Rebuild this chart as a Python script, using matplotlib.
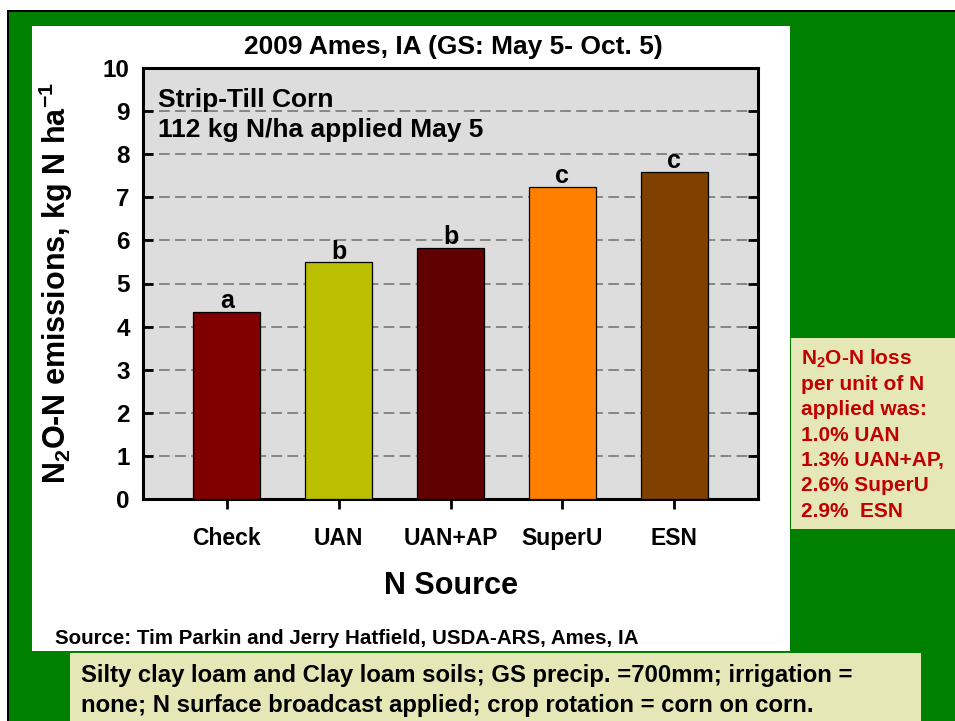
import matplotlib
matplotlib.use('Agg')
import matplotlib.pyplot as plt
from matplotlib.patches import Rectangle

plt.rcParams['font.family'] = ['Liberation Sans', 'DejaVu Sans']
plt.rcParams['font.weight'] = 'bold'
plt.rcParams['axes.labelweight'] = 'bold'
plt.rcParams['mathtext.fontset'] = 'custom'
plt.rcParams['mathtext.rm'] = 'Liberation Sans:bold'
plt.rcParams['mathtext.it'] = 'Liberation Sans:bold'
plt.rcParams['mathtext.bf'] = 'Liberation Sans:bold'

# data
sources = ['Check', 'UAN', 'UAN+AP', 'SuperU', 'ESN']
emissions = [4.35, 5.49, 5.83, 7.25, 7.59]
letters = ['a', 'b', 'b', 'c', 'c']
bar_colors = ['#800000', '#BAC000', '#600000', '#FF8000', '#804000']
yticks = list(range(0, 11))

loss_lines = ['N$_2$O-N loss', 'per unit of N', 'applied was:', '1.0% UAN',
              '1.3% UAN+AP,', '2.6% SuperU', '2.9%  ESN']
note_lines = ['Silty clay loam and Clay loam soils; GS precip. =700mm; irrigation =',
              'none; N surface broadcast applied; crop rotation = corn on corn.']

W, H = 955, 721
fig = plt.figure(figsize=(W / 100, H / 100), dpi=100)
fig.patch.set_facecolor('white')


def box(x0, y0, x1, y1, color):
    # rectangle given in pixel coords measured from the top left
    fig.patches.append(Rectangle((x0 / W, 1 - y1 / H), (x1 - x0) / W, (y1 - y0) / H,
                                 transform=fig.transFigure, facecolor=color,
                                 edgecolor='none', zorder=0))


box(7, 10, W, H, 'black')
box(9, 12, W, H, '#008000')
box(32, 26, 790, 651, 'white')
box(791, 338, W, 529, '#E5E8B6')
box(70, 653, 921, H, '#E5E8B6')

ax = fig.add_axes([143 / W, 1 - 499 / H, 615 / W, 431 / H])
ax.set_zorder(2)
ax.set_facecolor('#DDDDDD')
ax.set_axisbelow(True)

x = list(range(len(sources)))
ax.bar(x, emissions, width=0.6, color=bar_colors, edgecolor='black', linewidth=0.9, zorder=3)
for i in x:
    ax.annotate(letters[i], (i, emissions[i]), xytext=(0, 2.5), textcoords='offset points',
                ha='center', va='baseline', fontsize=18, zorder=4)

ax.set_xlim(-0.75, 4.75)
ax.set_ylim(0, 10)
ax.set_yticks(yticks)
ax.set_xticks(x)
ax.set_xticklabels(sources)
ax.yaxis.grid(True, linestyle=(0, (7, 3.5)), color='#6E6E6E', linewidth=1.1)

for s in ax.spines.values():
    s.set_linewidth(2.2)
ax.tick_params(axis='y', direction='in', length=7, width=2, left=True, right=True,
               labelsize=17.5, pad=9.5)
ax.tick_params(axis='x', direction='out', length=7, width=2, labelsize=16.5, pad=13)

ax.set_xlabel('N Source', fontsize=22, fontweight='bold', labelpad=15)
ax.set_ylabel('N$_2$O-N emissions, kg N ha$^{-1}$', fontsize=22, fontweight='bold')
ax.yaxis.set_label_coords(-0.111, 0.5)

ax.text(0.0244, 0.9095, 'Strip-Till Corn', transform=ax.transAxes, fontsize=19, va='baseline')
ax.text(0.0244, 0.840, '112 kg N/ha applied May 5', transform=ax.transAxes, fontsize=19,
        va='baseline')

fig.text(453 / W, 1 - 54 / H, '2009 Ames, IA (GS: May 5- Oct. 5)', ha='center',
         va='baseline', fontsize=19)

baselines = [365, 390, 415, 441, 466, 491, 517]
for line, b in zip(loss_lines, baselines):
    fig.text(801 / W, 1 - b / H, line, fontsize=15, color='#C00000', va='baseline')

fig.text(55 / W, 1 - 644 / H, 'Source: Tim Parkin and Jerry Hatfield, USDA-ARS, Ames, IA',
         fontsize=14.8, va='baseline')
fig.text(81 / W, 1 - 682 / H, note_lines[0], fontsize=17.2, va='baseline')
fig.text(81 / W, 1 - 712 / H, note_lines[1], fontsize=17.2, va='baseline')

fig.savefig('out.png', dpi=100)
